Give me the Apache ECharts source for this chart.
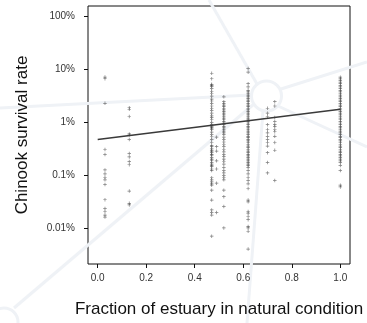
<!DOCTYPE html>
<html>
<head>
<meta charset="utf-8">
<script src="https://cdn.jsdelivr.net/npm/echarts@6/dist/echarts.min.js"></script>
<style>
html,body{margin:0;padding:0;background:#fff;}
#chart{width:367px;height:323px;}
</style>
</head>
<body>
<div id="chart"></div>
<script>
// Fraction of estuary in natural condition (x) for each group of points
const fractionGroups = [0.03, 0.13, 0.47, 0.49, 0.52, 0.62, 0.70, 0.73, 1.0];

// Chinook survival rate (%) per group
const survival_g1 = [7.2, 6.7, 2.3, 0.31, 0.25, 0.128, 0.108, 0.093, 0.083, 0.068, 0.035, 0.024, 0.021, 0.018, 0.0165];
const survival_g2 = [1.9, 1.78, 1.3, 0.61, 0.58, 0.48, 0.26, 0.225, 0.185, 0.16, 0.051, 0.030, 0.028];
const survival_g3 = [8.5, 6.7, 5.25, 5.03, 4.82, 4.36, 3.89, 3.53, 3.15, 2.77, 2.55, 2.3, 2.05, 1.86, 1.68, 1.5, 1.34, 1.25, 1.13, 1.0, 0.91, 0.85, 0.81, 0.76, 0.74, 0.66, 0.6, 0.54, 0.48, 0.42, 0.37, 0.35, 0.32, 0.3, 0.29, 0.27, 0.25, 0.243, 0.22, 0.204, 0.195, 0.177, 0.165, 0.154, 0.147, 0.133, 0.124, 0.091, 0.083, 0.076, 0.07, 0.066, 0.053, 0.0345, 0.0225, 0.02, 0.018, 0.0072];
const survival_g4 = [0.53, 0.35, 0.29, 0.19, 0.133, 0.072, 0.02];
const survival_g5 = [3.06, 2.47, 2.3, 2.14, 2.0, 1.86, 1.73, 1.61, 1.5, 1.4, 1.3, 1.21, 1.13, 1.05, 0.98, 0.91, 0.85, 0.79, 0.74, 0.69, 0.64, 0.6, 0.53, 0.48, 0.43, 0.39, 0.35, 0.31, 0.28, 0.25, 0.23, 0.204, 0.186, 0.165, 0.143, 0.124, 0.112, 0.1, 0.091, 0.083, 0.053, 0.04, 0.026, 0.0103];
const survival_g6 = [10.4, 8.9, 5.4, 4.69, 4.06, 3.78, 3.53, 3.28, 3.06, 2.85, 2.65, 2.47, 2.3, 2.14, 2.0, 1.86, 1.73, 1.61, 1.5, 1.4, 1.3, 1.21, 1.13, 1.05, 0.98, 0.91, 0.85, 0.79, 0.74, 0.69, 0.64, 0.6, 0.55, 0.52, 0.48, 0.45, 0.42, 0.39, 0.36, 0.34, 0.31, 0.29, 0.27, 0.25, 0.236, 0.22, 0.204, 0.19, 0.177, 0.165, 0.154, 0.143, 0.124, 0.108, 0.093, 0.081, 0.07, 0.057, 0.0345, 0.032, 0.021, 0.0195, 0.0169, 0.0147, 0.011, 0.0103, 0.0089, 0.0041];
const survival_g7 = [1.86, 1.5, 1.3, 0.91, 0.74, 0.64, 0.55, 0.48, 0.42, 0.36, 0.27, 0.177, 0.112];
const survival_g8 = [2.47, 2.05, 1.25, 1.05, 0.91, 0.85, 0.74, 0.67, 0.55, 0.42, 0.3, 0.081];
const survival_g9 = [7.18, 6.68, 6.23, 5.8, 5.4, 5.03, 4.69, 4.36, 4.06, 3.78, 3.53, 3.28, 3.06, 2.85, 2.65, 2.47, 2.3, 2.14, 2.0, 1.86, 1.73, 1.61, 1.5, 1.4, 1.3, 1.21, 1.13, 1.05, 0.98, 0.91, 0.85, 0.79, 0.74, 0.69, 0.64, 0.6, 0.55, 0.52, 0.48, 0.45, 0.42, 0.39, 0.36, 0.34, 0.31, 0.29, 0.27, 0.25, 0.236, 0.22, 0.204, 0.19, 0.177, 0.154, 0.124, 0.066, 0.061];

const survivalGroups = [survival_g1, survival_g2, survival_g3, survival_g4, survival_g5, survival_g6, survival_g7, survival_g8, survival_g9];

// Fitted trend line (endpoints)
const fitX = [0, 1];
const fitY = [0.48, 1.78];

// Tick labels
const xTicks = [0, 0.2, 0.4, 0.6, 0.8, 1.0];
const yTicks = [0.01, 0.1, 1, 10, 100];

const points = [];
fractionGroups.forEach((x, i) => {
  survivalGroups[i].forEach(v => points.push([x, v]));
});
const fitData = fitX.map((x, i) => [x, fitY[i]]);

const wm = '#eff2f6';
const wmW = 3;
const chart = echarts.init(document.getElementById('chart'), null, {renderer: 'canvas'});
chart.setOption({
  animation: false,
  backgroundColor: '#fff',
  graphic: [
    {type: 'group', z: -10, silent: true, children: [
      {type: 'circle', shape: {cx: 266.5, cy: 96, r: 15}, style: {fill: 'none', stroke: wm, lineWidth: wmW}},
      {type: 'line', shape: {x1: 209, y1: 0, x2: 257, y2: 84}, style: {stroke: wm, lineWidth: wmW}},
      {type: 'line', shape: {x1: 281, y1: 89, x2: 367, y2: 62}, style: {stroke: wm, lineWidth: wmW}},
      {type: 'line', shape: {x1: 278, y1: 106, x2: 367, y2: 147}, style: {stroke: wm, lineWidth: wmW}},
      {type: 'line', shape: {x1: 0, y1: 108, x2: 251, y2: 95}, style: {stroke: wm, lineWidth: wmW}},
      {type: 'line', shape: {x1: 263, y1: 111, x2: 247, y2: 323}, style: {stroke: wm, lineWidth: wmW}},
      {type: 'line', shape: {x1: 254, y1: 104, x2: 14, y2: 308}, style: {stroke: wm, lineWidth: wmW}},
      {type: 'circle', shape: {cx: 4, cy: 322, r: 14}, style: {fill: 'none', stroke: wm, lineWidth: wmW}}
    ]}
  ],
  grid: {left: 88, right: 17, top: 6, bottom: 55, show: true, borderColor: '#111', borderWidth: 1, backgroundColor: 'transparent'},
  xAxis: {
    type: 'value', min: -0.04, max: 1.04,
    name: 'Fraction of estuary in natural condition',
    nameLocation: 'middle', nameGap: 37,
    nameTextStyle: {fontSize: 17, color: '#111', fontFamily: 'Liberation Sans, Arial, sans-serif'},
    axisLine: {show: false, onZero: false},
    splitLine: {show: false},
    axisTick: {show: true, inside: false, length: 4, lineStyle: {color: '#111'}, customValues: xTicks},
    axisLabel: {customValues: xTicks, margin: 9, fontSize: 10, color: '#333', fontFamily: 'Liberation Sans, Arial, sans-serif',
      formatter: v => (+v).toFixed(1)}
  },
  yAxis: {
    type: 'log', logBase: 10, min: 0.002148, max: 157.8,
    name: 'Chinook survival rate',
    nameLocation: 'middle', nameGap: 57,
    nameTextStyle: {fontSize: 17, color: '#111', fontFamily: 'Liberation Sans, Arial, sans-serif'},
    axisLine: {show: false, onZero: false},
    splitLine: {show: false},
    minorTick: {show: false},
    axisTick: {show: true, inside: false, length: 4, lineStyle: {color: '#111'}, customValues: yTicks},
    axisLabel: {customValues: yTicks, margin: 13, fontSize: 10, color: '#333', fontFamily: 'Liberation Sans, Arial, sans-serif',
      formatter: v => (+(+v).toPrecision(3)) + '%'}
  },
  series: [
    {
      type: 'scatter',
      data: points,
      symbol: 'path://M2,0h1v2h2v1h-2v2h-1v-2h-2v-1h2z',
      symbolSize: 3.5,
      itemStyle: {color: 'rgba(40,40,40,0.75)'},
      z: 3
    },
    {
      type: 'line',
      data: fitData,
      symbol: 'none',
      lineStyle: {color: '#3a3a3a', width: 1.6},
      z: 4
    }
  ]
});
</script>
</body>
</html>
